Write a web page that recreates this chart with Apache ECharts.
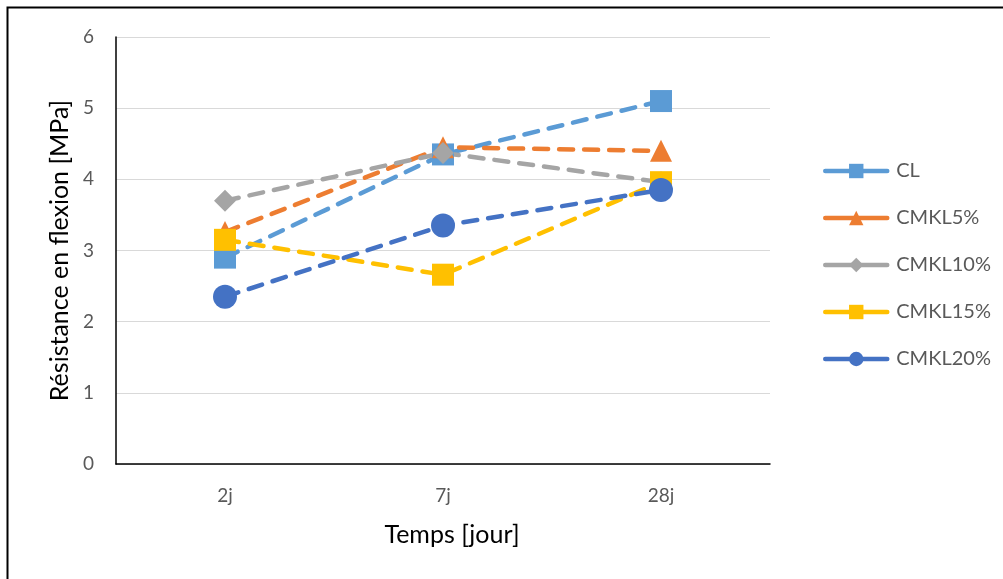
<!DOCTYPE html>
<html>
<head>
<meta charset="utf-8">
<script src="https://cdn.jsdelivr.net/npm/echarts@6/dist/echarts.min.js"></script>
<style>
  html, body { margin: 0; padding: 0; background: #fff; }
  #chart { width: 1003px; height: 579px; }
</style>
</head>
<body>
<div id="chart"></div>
<script>
var categories = ['2j', '7j', '28j'];
var seriesNames = ['CL', 'CMKL5%', 'CMKL10%', 'CMKL15%', 'CMKL20%'];
var CL = [2.9, 4.35, 5.1];
var CMKL5 = [3.26, 4.45, 4.4];
var CMKL10 = [3.7, 4.37, 3.96];
var CMKL15 = [3.15, 2.66, 3.96];
var CMKL20 = [2.35, 3.35, 3.85];
var yTicks = [0, 1, 2, 3, 4, 5, 6];

var colors = ['#5B9BD5', '#ED7D31', '#A5A5A5', '#FFC000', '#4472C4'];
var symbols = ['rect', 'triangle', 'diamond', 'rect', 'circle'];
var sizes = [22, 22, 22, 22, 24];
var values = [CL, CMKL5, CMKL10, CMKL15, CMKL20];
var font = 'Lato';

var chart = echarts.init(document.getElementById('chart'));

var series = [];
for (var i = 0; i < seriesNames.length; i++) {
  series.push({
    name: seriesNames[i],
    type: 'line',
    data: values[i],
    symbol: symbols[i],
    symbolSize: sizes[i],
    color: colors[i],
    lineStyle: { width: 4.5, type: [14, 11], cap: 'round', color: colors[i] },
    itemStyle: { color: colors[i] },
    animation: false
  });
}

var option = {
  animation: false,
  grid: { left: 116, top: 37, right: 233, bottom: 115 },
  legend: {
    orient: 'vertical',
    left: 818,
    top: 156,
    itemWidth: 62,
    itemHeight: 18,
    itemGap: 27,
    lineStyle: { width: 4.5, type: 'solid', cap: 'round' },
    textStyle: { fontFamily: font, fontSize: 20, color: '#595959', padding: [0, 0, 0, 4] },
    data: seriesNames
  },
  xAxis: {
    type: 'category',
    data: categories,
    name: 'Temps [jour]',
    nameLocation: 'middle',
    nameGap: 58,
    nameTextStyle: { fontFamily: font, fontSize: 25, color: '#000', padding: [0, 0, 0, 18] },
    axisLine: { lineStyle: { color: '#000', width: 1.5 } },
    axisTick: { show: false },
    axisLabel: { margin: 22, fontFamily: font, fontSize: 19, color: '#595959' }
  },
  yAxis: {
    type: 'value',
    min: yTicks[0],
    max: yTicks[yTicks.length - 1],
    interval: 1,
    name: 'Résistance en flexion [MPa]',
    nameLocation: 'middle',
    nameGap: 42,
    nameTextStyle: { fontFamily: font, fontSize: 25, color: '#000' },
    axisLine: { show: true, lineStyle: { color: '#000', width: 1.5 } },
    axisTick: { show: false },
    axisLabel: { margin: 22, fontFamily: font, fontSize: 19, color: '#595959' },
    splitLine: { lineStyle: { color: '#D9D9D9', width: 1 } }
  },
  graphic: [
    { type: 'polyline', shape: { points: [[7.5, 579], [7.5, 7.5], [1003, 7.5]] },
      style: { stroke: '#000', lineWidth: 2, fill: null }, silent: true }
  ],
  series: series
};

chart.setOption(option);
</script>
</body>
</html>
